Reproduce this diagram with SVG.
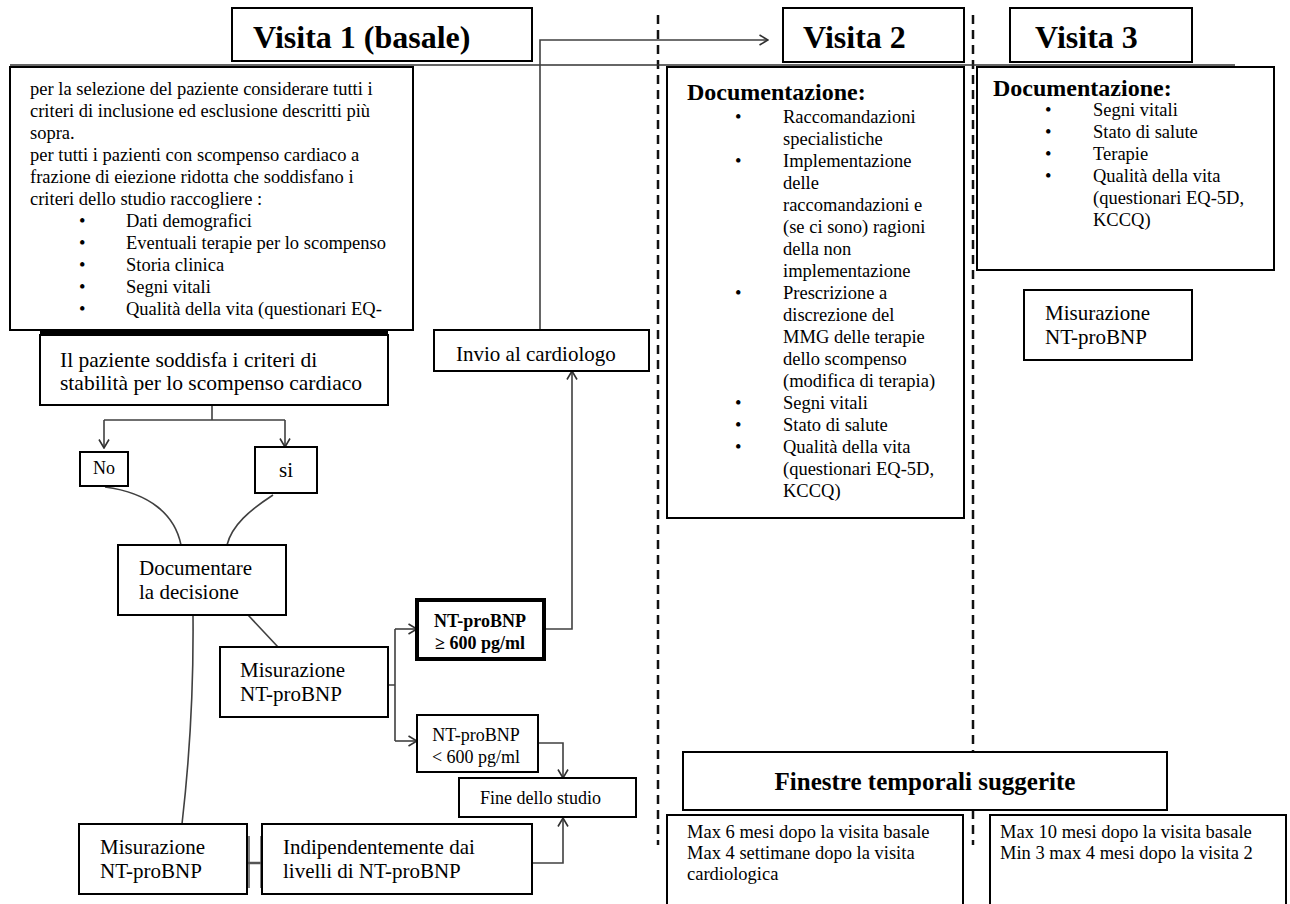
<svg xmlns="http://www.w3.org/2000/svg" width="1290" height="904" viewBox="0 0 1290 904">
<style>
.box{fill:#fff;stroke:#000;stroke-width:2}
.t{font-family:"Liberation Serif","Times New Roman",serif;fill:#000}
.s185{font-size:18.5px}
.s21{font-size:21px}
.s18{font-size:18px}
.title{font-size:32px;font-weight:bold}
.doc{font-size:24px;font-weight:bold}
.con{fill:none;stroke:#404040;stroke-width:1.6}
.dash{fill:none;stroke:#111;stroke-width:2.5;stroke-dasharray:9 6}
</style>
<defs>
<marker id="arr" viewBox="0 0 10 12" refX="9.5" refY="6" markerWidth="10" markerHeight="12" markerUnits="userSpaceOnUse" orient="auto">
<path d="M1,1 L9.5,6 L1,11" fill="none" stroke="#303030" stroke-width="1.6"/>
</marker>
</defs>
<rect width="1290" height="904" fill="#fff"/>

<g id="guides">
<line class="dash" x1="658" y1="15" x2="658" y2="845"/>
<line class="dash" x1="973" y1="15" x2="973" y2="845"/>
<line x1="10" y1="65" x2="1235" y2="65" stroke="#333" stroke-width="1.5"/>
</g>

<g id="connectors">
<path class="con" d="M540,330 V40 H768" marker-end="url(#arr)"/>
<path class="con" d="M212,405 V420 M104,420 H285"/>
<path class="con" d="M104,420 V448" marker-end="url(#arr)"/>
<path class="con" d="M285,420 V447" marker-end="url(#arr)"/>
<path class="con" d="M105,487 C150,493 175,515 181,545"/>
<path class="con" d="M273,495 C250,510 232,525 227,545"/>
<path class="con" d="M193,615 Q194,720 182,824"/>
<path class="con" d="M248,615 L278,647"/>
<path class="con" d="M388,685 H395 M395,629 V741"/>
<path class="con" d="M395,629 H417" marker-end="url(#arr)"/>
<path class="con" d="M395,741 H417" marker-end="url(#arr)"/>
<path class="con" d="M544,629 H572 V371" marker-end="url(#arr)"/>
<path class="con" d="M538,743 H563 V778" marker-end="url(#arr)"/>
<path class="con" d="M532,863 H563 V818" marker-end="url(#arr)"/>
<path d="M247,863 H262" stroke="#555" stroke-width="2.5"/>
<path d="M249,836 V888 M261,836 V888" stroke="#555" stroke-width="1.5"/>
</g>

<g id="visita1-title">
<rect class="box" x="232" y="8" width="300" height="53"/>
<text class="t title" x="253" y="48">Visita 1 (basale)</text>
</g>

<g id="selezione">
<rect class="box" x="10" y="67" width="403" height="263"/>
<text class="t s185">
<tspan x="30" y="95">per la selezione del paziente considerare tutti i</tspan>
<tspan x="30" y="117">criteri di inclusione ed esclusione descritti più</tspan>
<tspan x="30" y="139">sopra.</tspan>
<tspan x="30" y="161">per tutti i pazienti con scompenso cardiaco a</tspan>
<tspan x="30" y="183">frazione di eiezione ridotta che soddisfano i</tspan>
<tspan x="30" y="205">criteri dello studio raccogliere :</tspan>
<tspan x="79" y="227">•</tspan><tspan x="126" y="227">Dati demografici</tspan>
<tspan x="79" y="249">•</tspan><tspan x="126" y="249">Eventuali terapie per lo scompenso</tspan>
<tspan x="79" y="271">•</tspan><tspan x="126" y="271">Storia clinica</tspan>
<tspan x="79" y="293">•</tspan><tspan x="126" y="293">Segni vitali</tspan>
<tspan x="79" y="315">•</tspan><tspan x="126" y="315">Qualità della vita (questionari EQ-</tspan>
</text>
</g>

<g id="stabilita">
<rect x="40" y="331" width="348" height="5" fill="#000"/>
<rect class="box" x="40" y="335" width="348" height="70"/>
<text class="t" font-size="21.5"><tspan x="60" y="367">Il paziente soddisfa i criteri di</tspan><tspan x="60" y="390">stabilità per lo scompenso cardiaco</tspan></text>
</g>

<g id="no">
<rect class="box" x="80" y="452" width="48" height="34" stroke-width="1.5"/>
<text class="t s18" x="104" y="474" text-anchor="middle" fill="#1a1a40">No</text>
</g>

<g id="si">
<rect class="box" x="255" y="447" width="62" height="46"/>
<text class="t s21" x="286" y="477" text-anchor="middle">si</text>
</g>

<g id="documentare">
<rect class="box" x="118" y="545" width="168" height="70"/>
<text class="t s21"><tspan x="139" y="575">Documentare</tspan><tspan x="139" y="599">la decisione</tspan></text>
</g>

<g id="misurazione-mid">
<rect class="box" x="220" y="647" width="168" height="70"/>
<text class="t s21"><tspan x="240" y="677">Misurazione</tspan><tspan x="240" y="701">NT-proBNP</tspan></text>
</g>

<g id="nt-high">
<rect x="417" y="600" width="127" height="59" fill="#fff" stroke="#000" stroke-width="4"/>
<text class="t s18" font-weight="bold" text-anchor="middle"><tspan x="480" y="627">NT-proBNP</tspan><tspan x="480" y="649">≥ 600 pg/ml</tspan></text>
</g>

<g id="nt-low">
<rect class="box" x="417" y="715" width="121" height="57" stroke-width="1.5"/>
<text class="t s18" text-anchor="middle"><tspan x="476" y="741">NT-proBNP</tspan><tspan x="476" y="763">&lt; 600 pg/ml</tspan></text>
</g>

<g id="invio">
<rect class="box" x="434" y="330" width="215" height="41"/>
<text class="t s21" x="456" y="361">Invio al cardiologo</text>
</g>

<g id="fine">
<rect class="box" x="459" y="778" width="177" height="39"/>
<text class="t s18" x="480" y="804">Fine dello studio</text>
</g>

<g id="misurazione-bottom">
<rect class="box" x="79" y="824" width="168" height="70"/>
<text class="t s21"><tspan x="100" y="854">Misurazione</tspan><tspan x="100" y="878">NT-proBNP</tspan></text>
</g>

<g id="indipendentemente">
<rect class="box" x="262" y="824" width="270" height="70"/>
<text class="t s21"><tspan x="283" y="854">Indipendentemente dai</tspan><tspan x="283" y="878">livelli di NT-proBNP</tspan></text>
</g>

<g id="visita2-title">
<rect class="box" x="783" y="8" width="181" height="54"/>
<text class="t title" x="803" y="48">Visita 2</text>
</g>

<g id="visita2-doc">
<rect class="box" x="667" y="67" width="297" height="451"/>
<text class="t doc" x="687" y="100">Documentazione:</text>
<text class="t s185">
<tspan x="735" y="123">•</tspan><tspan x="783" y="123">Raccomandazioni</tspan>
<tspan x="783" y="145">specialistiche</tspan>
<tspan x="735" y="167">•</tspan><tspan x="783" y="167">Implementazione</tspan>
<tspan x="783" y="189">delle</tspan>
<tspan x="783" y="211">raccomandazioni e</tspan>
<tspan x="783" y="233">(se ci sono) ragioni</tspan>
<tspan x="783" y="255">della non</tspan>
<tspan x="783" y="277">implementazione</tspan>
<tspan x="735" y="299">•</tspan><tspan x="783" y="299">Prescrizione a</tspan>
<tspan x="783" y="321">discrezione del</tspan>
<tspan x="783" y="343">MMG delle terapie</tspan>
<tspan x="783" y="365">dello scompenso</tspan>
<tspan x="783" y="387">(modifica di terapia)</tspan>
<tspan x="735" y="409">•</tspan><tspan x="783" y="409">Segni vitali</tspan>
<tspan x="735" y="431">•</tspan><tspan x="783" y="431">Stato di salute</tspan>
<tspan x="735" y="453">•</tspan><tspan x="783" y="453">Qualità della vita</tspan>
<tspan x="783" y="475">(questionari EQ-5D,</tspan>
<tspan x="783" y="497">KCCQ)</tspan>
</text>
</g>

<g id="visita3-title">
<rect class="box" x="1010" y="8" width="182" height="54"/>
<text class="t title" x="1035" y="48">Visita 3</text>
</g>

<g id="visita3-doc">
<rect class="box" x="977" y="67" width="297" height="203"/>
<text class="t doc" x="993" y="96">Documentazione:</text>
<text class="t s185">
<tspan x="1045" y="116">•</tspan><tspan x="1093" y="116">Segni vitali</tspan>
<tspan x="1045" y="138">•</tspan><tspan x="1093" y="138">Stato di salute</tspan>
<tspan x="1045" y="160">•</tspan><tspan x="1093" y="160">Terapie</tspan>
<tspan x="1045" y="182">•</tspan><tspan x="1093" y="182">Qualità della vita</tspan>
<tspan x="1093" y="204">(questionari EQ-5D,</tspan>
<tspan x="1093" y="226">KCCQ)</tspan>
</text>
</g>

<g id="misurazione-v3">
<rect class="box" x="1024" y="290" width="168" height="70"/>
<text class="t s21"><tspan x="1045" y="320">Misurazione</tspan><tspan x="1045" y="344">NT-proBNP</tspan></text>
</g>

<g id="finestre">
<rect class="box" x="683" y="752" width="484" height="58"/>
<text class="t" font-size="25" font-weight="bold" x="925" y="790" text-anchor="middle">Finestre temporali suggerite</text>
</g>

<g id="finestra-v2">
<rect class="box" x="667" y="815" width="296" height="100"/>
<text class="t s185"><tspan x="687" y="838">Max 6 mesi dopo la visita basale</tspan><tspan x="687" y="859">Max 4 settimane dopo la visita</tspan><tspan x="687" y="880">cardiologica</tspan></text>
</g>

<g id="finestra-v3">
<rect class="box" x="990" y="815" width="296" height="100"/>
<text class="t s185"><tspan x="1000" y="838">Max 10 mesi dopo la visita basale</tspan><tspan x="1000" y="859">Min 3 max 4 mesi dopo la visita 2</tspan></text>
</g>
</svg>
